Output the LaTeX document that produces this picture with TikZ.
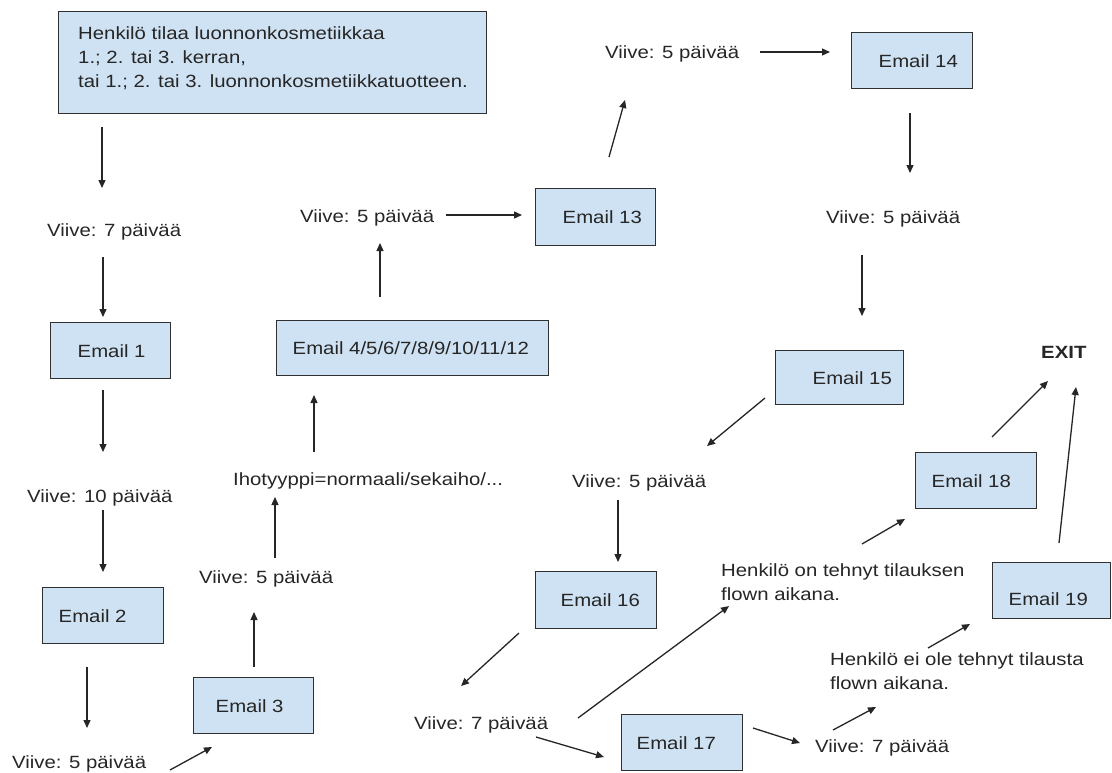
\documentclass[tikz,border=0pt]{standalone}
\usepackage{fontspec}
\setmainfont{Liberation Sans}[FakeStretch=1.15]
\usetikzlibrary{arrows.meta}
\definecolor{boxfill}{HTML}{CFE2F3}
\definecolor{ink}{HTML}{262626}
\definecolor{edge}{HTML}{303030}
% box content: total width, left padding, text
\newcommand\padded[3]{\makebox[#1pt][l]{\hspace{#2pt}#3}}
% two-line label whose base is the first baseline
\newcommand\twolines[2]{\vtop{\baselineskip=24pt\hbox{#1}\hbox{#2}}}
\begin{document}
\begin{tikzpicture}[x=1pt,y=-1pt,
  every node/.style={font=\fontsize{17.7}{24}\selectfont, text=ink},
  mail/.style={draw=edge, line width=1.4pt, fill=boxfill, anchor=north west,
               inner xsep=0pt, inner ysep=0pt, minimum height=56pt},
  lbl/.style={anchor=base west, inner sep=0pt},
  conn/.style={draw=ink, line width=1.3pt, -{Triangle[length=8pt,width=7pt]}}]
\fill[white] (0,0) rectangle (1112,772);
\path[use as bounding box] (0,0) rectangle (1112,772);

% start box
\node[mail, minimum height=102pt] (start) at (58,11) {\padded{428}{0}{}};
\node[lbl] (starttext) at (78,39) {\vtop{\baselineskip=24pt
  \hbox{Henkilö tilaa luonnonkosmetiikkaa}
  \hbox{1.; 2. tai 3. kerran,}
  \hbox{tai 1.; 2. tai 3. luonnonkosmetiikkatuotteen.}}};

% e-mail boxes
\node[mail] (e1) at (50,322) {\padded{120}{27}{Email 1}};
\node[mail] (e2) at (42,587) {\padded{121}{16}{Email 2}};
\node[mail] (e3) at (193,677) {\padded{120}{22}{Email 3}};
\node[mail, minimum height=55pt] (e4) at (276,320) {\padded{272}{16}{Email 4/5/6/7/8/9/10/11/12}};
\node[mail, minimum height=57pt] (e13) at (535,188) {\padded{120}{27}{Email 13}};
\node[mail] (e14) at (851,32) {\padded{121}{27}{Email 14}};
\node[mail, minimum height=54pt] (e15) at (775,350) {\padded{128}{37}{Email 15}};
\node[mail, minimum height=57pt] (e16) at (535,571) {\padded{121}{25}{Email 16}};
\node[mail] (e17) at (621,714) {\padded{121}{15}{Email 17}};
\node[mail] (e18) at (915,452) {\padded{121}{16}{Email 18}};
\node[mail, text height=30pt, text depth=0pt] (e19) at (992,562) {\padded{118}{16}{Email 19}};

% delay and condition labels
\node[lbl] (v1) at (47,236) {Viive: 7 päivää};
\node[lbl] (v2) at (27,502) {Viive: 10 päivää};
\node[lbl] (v3) at (12,768) {Viive: 5 päivää};
\node[lbl] (v4) at (199,583) {Viive: 5 päivää};
\node[lbl] (iho) at (233,485) {Ihotyyppi=normaali/sekaiho/...};
\node[lbl] (v5) at (300,222) {Viive: 5 päivää};
\node[lbl] (v6) at (605,58) {Viive: 5 päivää};
\node[lbl] (v7) at (826,223) {Viive: 5 päivää};
\node[lbl] (v8) at (572,487) {Viive: 5 päivää};
\node[lbl] (v9) at (414,729) {Viive: 7 päivää};
\node[lbl] (v10) at (815,752) {Viive: 7 päivää};
\node[lbl] (hon) at (721,576) {\twolines{Henkilö on tehnyt tilauksen}{flown aikana.}};
\node[lbl] (hei) at (830,665) {\twolines{Henkilö ei ole tehnyt tilausta}{flown aikana.}};
\node[lbl, font=\fontsize{17.7}{24}\selectfont\bfseries] (exit) at (1041,358) {EXIT};

% free-standing arrows: name / start / end
\foreach \n/\sx/\sy/\ex/\ey in {
  a1/102/127/102/188, a2/103/257/103/317, a3/103/390/103/452,
  a4/103/510/103/572, a5/87/667/87/728, a6/170/770/212/747,
  a7/254/667/254/612, a8/275/558/275/497, a9/314/452/314/395,
  a10/380/297/380/243, a11/446/215/522/215, a12/609/157/625/100,
  a13/760/52/830/52, a14/910/113/910/173, a15/862/255/862/316,
  a16/765/398/707/446, a17/618/500/618/562, a18/519/633/461/686,
  a19/536/737/604/757, a20/578/718/729/606, a21/753/728/800/743,
  a22/833/730/876/707, a23/862/544/905/519, a24/928/648/970/624,
  a25/992/437/1048/381, a26/1059/543/1076/387}{
  \coordinate (\n s) at (\sx,\sy);
  \coordinate (\n e) at (\ex,\ey);
  \draw[conn] (\n s) -- (\n e);
}
\end{tikzpicture}
\end{document}
